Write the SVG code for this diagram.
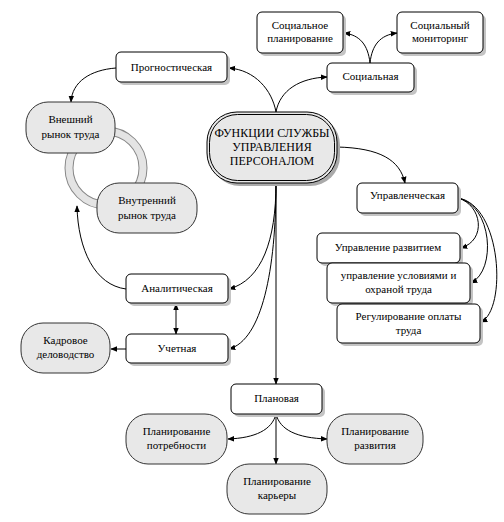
<svg xmlns="http://www.w3.org/2000/svg" width="504" height="522" viewBox="0 0 504 522">
<defs>
<marker id="ah" viewBox="0 0 10 10" refX="9" refY="5" markerWidth="7" markerHeight="7" orient="auto-start-reverse" markerUnits="userSpaceOnUse">
<path d="M0,1 L10,5 L0,9 z" fill="#000"/>
</marker>
<rect id="shb" width="1" height="1"/>
</defs>
<rect width="504" height="522" fill="#fff"/>
<g id="ring" fill="none">
<circle cx="106" cy="168" r="37" stroke="#888" stroke-width="9"/>
<circle cx="106" cy="168" r="37" stroke="#e4e4e4" stroke-width="7"/>
</g>
<g id="connectors" fill="none" stroke="#000" stroke-width="1" marker-end="url(#ah)">
<path d="M276,112 C272,90 255,70 229,68"/>
<path d="M276,112 C280,90 300,78 327,77"/>
<path d="M370,63 C368,45 360,35 344,33"/>
<path d="M370,63 C372,45 380,35 397,33"/>
<path d="M116,68 C90,70 72,82 71,102"/>
<path d="M337,147 C380,148 400,160 405,183"/>
<path d="M458,198 C482,205 487,240 461,248"/>
<path d="M458,198 C492,205 497,270 471,283"/>
<path d="M458,198 C502,205 507,310 481,322"/>
<path d="M276,183 L276,384"/>
<path d="M276,183 C276,240 262,280 229,289"/>
<path d="M276,183 C276,270 262,340 229,349"/>
<path d="M126,289 C95,285 78,250 77,206"/>
<path d="M176,304 L176,334" marker-start="url(#ah)"/>
<path d="M126,349 L111,349"/>
<path d="M276,414 C272,430 255,438 228,439"/>
<path d="M276,414 C280,430 297,438 327,439"/>
<path d="M276,414 L276,464"/>
</g>
<g font-family="Liberation Serif, serif" font-size="11" text-anchor="middle" fill="#000">
<g id="center">
<rect x="210" y="115" width="130" height="71" rx="30" fill="#aaa"/>
<rect x="207" y="112" width="130" height="71" rx="30" fill="#e8e8e8" stroke="#000" stroke-width="1"/>
<rect x="209.5" y="114.5" width="125" height="66" rx="28" fill="none" stroke="#000" stroke-width="1"/>
<text font-size="12" x="272" y="137">ФУНКЦИИ СЛУЖБЫ</text>
<text font-size="12" x="272" y="151">УПРАВЛЕНИЯ</text>
<text font-size="12" x="272" y="165">ПЕРСОНАЛОМ</text>
</g>
<g id="prognost">
<rect x="119" y="55" width="111" height="30" rx="5" fill="#c4c4c4"/>
<rect x="116" y="52" width="111" height="30" rx="5" fill="#fff" stroke="#000"/>
<text x="171.5" y="71">Прогностическая</text>
</g>
<g id="socplan">
<rect x="260" y="15" width="86" height="41" rx="5" fill="#c4c4c4"/>
<rect x="257" y="12" width="86" height="41" rx="5" fill="#fff" stroke="#000"/>
<text x="300" y="29">Социальное</text>
<text x="300" y="42">планирование</text>
</g>
<g id="socmon">
<rect x="400" y="15" width="86" height="41" rx="5" fill="#c4c4c4"/>
<rect x="397" y="12" width="86" height="41" rx="5" fill="#fff" stroke="#000"/>
<text x="440" y="29">Социальный</text>
<text x="440" y="42">мониторинг</text>
</g>
<g id="social">
<rect x="330" y="66" width="87" height="29" rx="5" fill="#c4c4c4"/>
<rect x="327" y="63" width="87" height="29" rx="5" fill="#fff" stroke="#000"/>
<text x="370.5" y="80">Социальная</text>
</g>
<g id="vneshniy">
<rect x="26" y="102" width="89" height="51" rx="22" fill="#e8e8e8" stroke="#333"/>
<text x="70.5" y="123">Внешний</text>
<text x="70.5" y="138">рынок труда</text>
</g>
<g id="vnutrenniy">
<rect x="97" y="183" width="100" height="50" rx="22" fill="#e8e8e8" stroke="#333"/>
<text x="147" y="204">Внутренний</text>
<text x="147" y="219">рынок труда</text>
</g>
<g id="analit">
<rect x="129" y="277" width="102" height="29" rx="5" fill="#c4c4c4"/>
<rect x="126" y="274" width="102" height="29" rx="5" fill="#fff" stroke="#000"/>
<text x="177" y="292">Аналитическая</text>
</g>
<g id="uchet">
<rect x="129" y="337" width="102" height="29" rx="5" fill="#c4c4c4"/>
<rect x="126" y="334" width="102" height="29" rx="5" fill="#fff" stroke="#000"/>
<text x="177" y="352">Учетная</text>
</g>
<g id="kadrovoe">
<rect x="21" y="323" width="89" height="50" rx="22" fill="#e8e8e8" stroke="#333"/>
<text x="65.5" y="344">Кадровое</text>
<text x="65.5" y="358">деловодство</text>
</g>
<g id="upravl">
<rect x="360" y="186" width="101" height="30" rx="5" fill="#c4c4c4"/>
<rect x="357" y="183" width="101" height="30" rx="5" fill="#fff" stroke="#000"/>
<text x="407.5" y="199">Управленческая</text>
</g>
<g id="razvitiem">
<rect x="320" y="236" width="143" height="30" rx="5" fill="#c4c4c4"/>
<rect x="317" y="233" width="143" height="30" rx="5" fill="#fff" stroke="#000"/>
<text x="388" y="251">Управление развитием</text>
</g>
<g id="usloviya">
<rect x="330" y="266" width="143" height="40" rx="5" fill="#c4c4c4"/>
<rect x="327" y="263" width="143" height="40" rx="5" fill="#fff" stroke="#000"/>
<text x="398.5" y="279">управление условиями и</text>
<text x="398.5" y="293">охраной труда</text>
</g>
<g id="oplata">
<rect x="340" y="307" width="143" height="39" rx="5" fill="#c4c4c4"/>
<rect x="337" y="304" width="143" height="39" rx="5" fill="#fff" stroke="#000"/>
<text x="408.5" y="320">Регулирование оплаты</text>
<text x="408.5" y="334">труда</text>
</g>
<g id="planovaya">
<rect x="234" y="387" width="91" height="30" rx="5" fill="#c4c4c4"/>
<rect x="231" y="384" width="91" height="30" rx="5" fill="#fff" stroke="#000"/>
<text x="276.5" y="402">Плановая</text>
</g>
<g id="potrebnosti">
<rect x="126" y="414" width="101" height="50" rx="22" fill="#e8e8e8" stroke="#333"/>
<text x="176.5" y="435">Планирование</text>
<text x="176.5" y="449">потребности</text>
</g>
<g id="razvitiya">
<rect x="327" y="414" width="96" height="50" rx="22" fill="#e8e8e8" stroke="#333"/>
<text x="375" y="435">Планирование</text>
<text x="375" y="449">развития</text>
</g>
<g id="kariery">
<rect x="227" y="464" width="100" height="50" rx="22" fill="#e8e8e8" stroke="#333"/>
<text x="277" y="485">Планирование</text>
<text x="277" y="499">карьеры</text>
</g>
</g>
</svg>
